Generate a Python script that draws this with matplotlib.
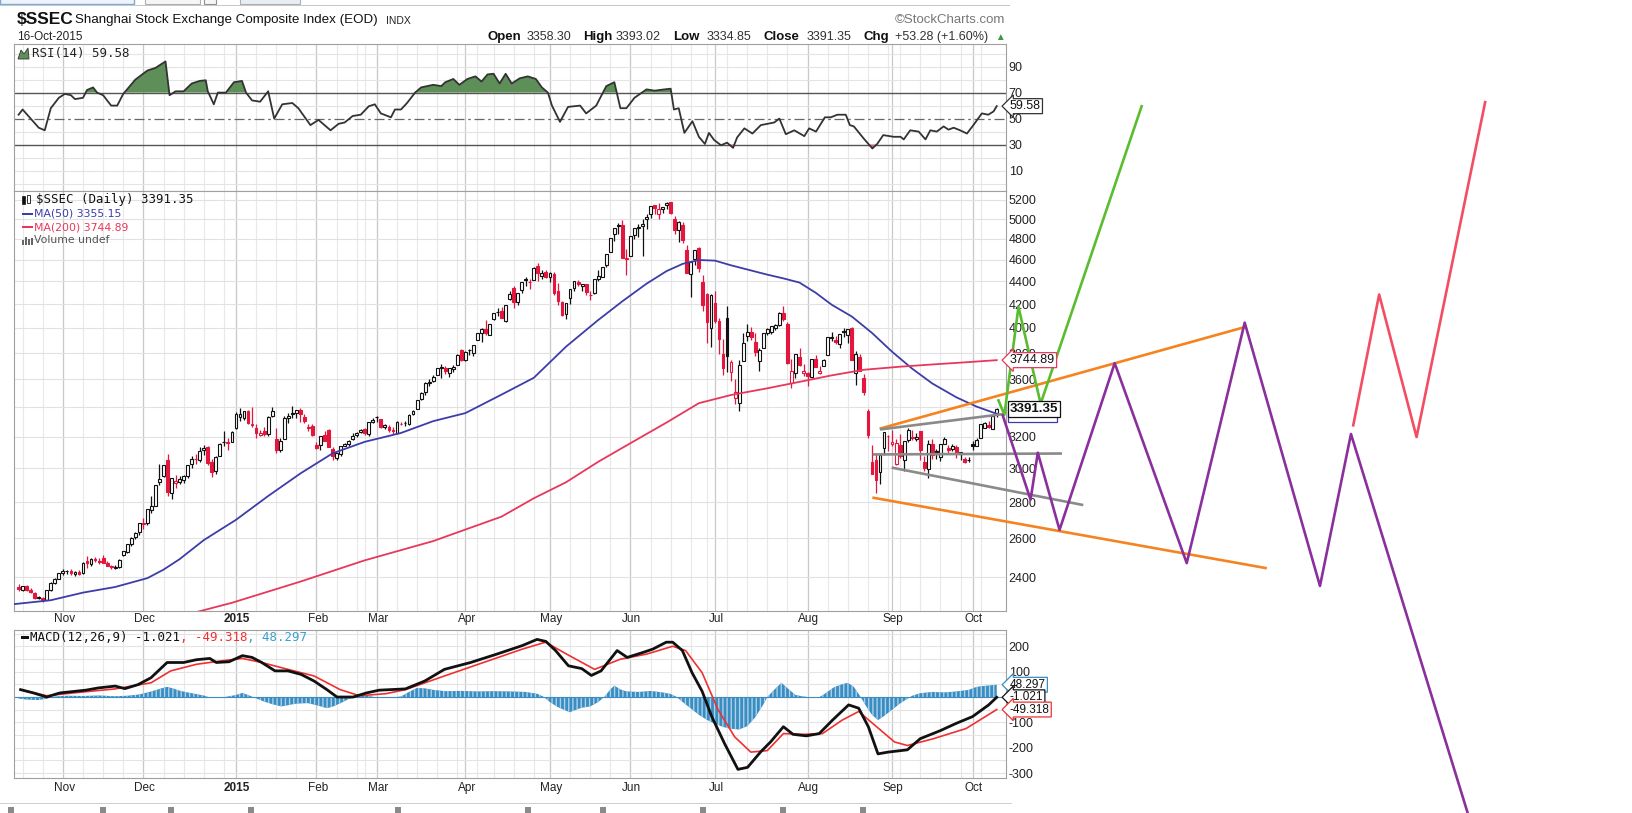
import numpy as np
import pandas as pd
import matplotlib
matplotlib.use("Agg")
import matplotlib.pyplot as plt
from matplotlib.transforms import blended_transform_factory as blend
from matplotlib.patches import Rectangle, Polygon
from matplotlib.ticker import NullLocator

plt.rcParams['font.family'] = ['Liberation Sans', 'DejaVu Sans']

# ----------------------------- data -----------------------------
start_date, end_date = '2014-10-17', '2015-10-16'
holidays = ['2015-01-01', '2015-01-02', '2015-02-18', '2015-02-19', '2015-02-20',
            '2015-02-23', '2015-02-24', '2015-04-06', '2015-05-01', '2015-06-22',
            '2015-09-03', '2015-09-04', '2015-10-01', '2015-10-02', '2015-10-05',
            '2015-10-06', '2015-10-07']
prev_close_start = 2356.0

opens = [2355, 2340, 2358, 2340, 2326, 2304, 2302, 2292, 2339, 2372, 2394,
         2421, 2429, 2432, 2417, 2425, 2422, 2480, 2464, 2494, 2484, 2499, 2474, 2455, 2446, 2450, 2510, 2530, 2567, 2605, 2632,
         2675, 2680, 2755, 2780, 2920, 2955, 3050, 2855, 2913, 2920, 2930, 2955, 3030, 3060, 3050, 3115, 3135, 3040, 2985, 3080, 3170, 3162, 3170,
         3258, 3331, 3327, 3372, 3276, 3259, 3212, 3242, 3222, 3343, 3189, 3114, 3189, 3324, 3358, 3360, 3383, 3334, 3268, 3273,
         3148, 3145, 3213, 3243, 3122, 3066, 3089, 3142, 3154, 3187, 3210, 3233, 3254, 3222, 3296,
         3332, 3317, 3264, 3265, 3248, 3225, 3289, 3291, 3285, 3357, 3391, 3458, 3506, 3576, 3586, 3631, 3683, 3684, 3648, 3677, 3710, 3822,
         3748, 3827, 3803, 3899, 3962, 3995, 3944, 4072, 4130, 4141, 4058, 4248, 4343, 4217, 4323, 4420, 4393, 4413, 4540, 4454, 4482,
         4441, 4470, 4312, 4215, 4120, 4250, 4342, 4399, 4361, 4375, 4281, 4294, 4418, 4440, 4547, 4677, 4854, 4926, 4943, 4604,
         4634, 4844, 4924, 4930, 5002, 5049, 5145, 5049, 5100, 5144, 5175, 5004, 4890, 4942, 4690, 4471, 4604, 4711, 4399, 4289, 3998,
         4214, 4058, 3793, 4079, 3655, 3468, 3432, 3742, 3935, 3968, 3885, 3742, 3839, 3963, 3970, 3998, 4022, 4124, 4029, 3574, 3647, 3769, 3648,
         3648, 3620, 3750, 3646, 3700, 3786, 3916, 3901, 3867, 3979, 3947, 3999, 3646, 3767, 3609, 3373, 3042, 3049, 2978, 3125, 3203,
         3157, 3027, 3149, 3055, 3180, 3190, 3189, 3237, 3042, 2998, 3152, 3110, 3069, 3157, 3127, 3119, 3132, 3088, 3060, 3055,
         3156, 3144, 3194, 3262, 3280, 3255, 3358.30]
highs = [2368, 2360, 2362, 2350, 2330, 2310, 2304, 2338, 2375, 2395, 2423,
         2440, 2435, 2440, 2432, 2434, 2478, 2508, 2496, 2500, 2495, 2510, 2480, 2460, 2460, 2490, 2535, 2568, 2605, 2632, 2683,
         2710, 2763, 2835, 2900, 3028, 3020, 3091, 2943, 2958, 2955, 2958, 3022, 3080, 3088, 3135, 3150, 3140, 3060, 3075, 3158, 3239, 3190, 3240,
         3369, 3394, 3374, 3381, 3404, 3283, 3245, 3268, 3337, 3400, 3262, 3190, 3337, 3358, 3406, 3384, 3394, 3352, 3288, 3288,
         3168, 3204, 3237, 3250, 3136, 3099, 3142, 3160, 3180, 3225, 3230, 3252, 3257, 3300, 3324,
         3337, 3318, 3286, 3276, 3265, 3303, 3300, 3304, 3357, 3383, 3449, 3507, 3578, 3600, 3632, 3688, 3715, 3697, 3686, 3705, 3795, 3835,
         3817, 3835, 3866, 3961, 4000, 4069, 4034, 4128, 4168, 4175, 4194, 4317, 4356, 4294, 4398, 4444, 4425, 4529, 4572, 4500, 4502,
         4488, 4490, 4383, 4225, 4210, 4334, 4401, 4416, 4378, 4380, 4315, 4418, 4500, 4532, 4658, 4814, 4911, 4958, 4986, 4698,
         4829, 4911, 4945, 4996, 5051, 5131, 5147, 5164, 5130, 5178, 5176, 5029, 4985, 4966, 4744, 4577, 4691, 4720, 4456, 4297, 4287,
         4317, 4080, 3908, 4184, 3748, 3601, 3748, 3959, 4030, 4011, 3958, 3837, 3960, 4000, 4019, 4031, 4132, 4184, 4051, 3757, 3794, 3837, 3715,
         3657, 3757, 3783, 3699, 3755, 3929, 3970, 3936, 3955, 4003, 3994, 4006, 3812, 3792, 3641, 3389, 3148, 3092, 3084, 3233, 3210,
         3244, 3188, 3217, 3171, 3257, 3243, 3223, 3237, 3079, 3182, 3187, 3119, 3157, 3201, 3150, 3151, 3149, 3102, 3070, 3073,
         3172, 3192, 3289, 3298, 3308, 3338, 3393.02]
lows = [2336, 2334, 2335, 2323, 2298, 2296, 2280, 2290, 2336, 2365, 2392,
        2411, 2415, 2410, 2408, 2412, 2418, 2445, 2455, 2478, 2466, 2470, 2455, 2440, 2441, 2446, 2505, 2524, 2560, 2595, 2620,
        2652, 2670, 2740, 2775, 2900, 2950, 2835, 2820, 2880, 2906, 2912, 2943, 3003, 3030, 3040, 3085, 3020, 2950, 2965, 3075, 3140, 3115, 3165,
        3253, 3303, 3312, 3285, 3268, 3191, 3204, 3209, 3208, 3330, 3095, 3101, 3188, 3293, 3327, 3329, 3301, 3293, 3240, 3209,
        3122, 3117, 3174, 3136, 3050, 3050, 3077, 3139, 3142, 3180, 3200, 3225, 3215, 3204, 3290,
        3298, 3260, 3250, 3234, 3222, 3216, 3279, 3273, 3279, 3348, 3390, 3452, 3487, 3555, 3583, 3631, 3614, 3643, 3615, 3653, 3705, 3737,
        3742, 3783, 3779, 3899, 3887, 3943, 3944, 4068, 4099, 4084, 4050, 4232, 4170, 4194, 4297, 4358, 4334, 4409, 4406, 4425, 4434,
        4398, 4280, 4192, 4099, 4075, 4201, 4319, 4356, 4315, 4280, 4232, 4287, 4403, 4439, 4535, 4677, 4779, 4848, 4617, 4459,
        4632, 4797, 4817, 4636, 4898, 5006, 5050, 5001, 5060, 5100, 5048, 4846, 4767, 4762, 4476, 4264, 4552, 4483, 4140, 3875, 3848,
        4043, 3795, 3629, 3653, 3585, 3421, 3373, 3742, 3895, 3906, 3775, 3660, 3838, 3941, 3950, 3984, 4020, 4061, 3716, 3537, 3614, 3702, 3626,
        3549, 3607, 3693, 3638, 3700, 3786, 3897, 3874, 3840, 3928, 3877, 3743, 3558, 3662, 3490, 3192, 2965, 2850, 2906, 3085, 3109,
        3140, 3019, 3066, 2983, 3170, 3178, 3171, 3049, 2983, 2939, 3057, 3059, 3044, 3157, 3087, 3109, 3066, 3051, 3033, 3039,
        3113, 3139, 3192, 3260, 3257, 3250, 3334.85]
closes = [2341, 2357, 2339, 2327, 2302, 2302, 2290, 2337, 2373, 2391, 2420,
          2430, 2430, 2419, 2425, 2418, 2473, 2469, 2494, 2485, 2478, 2474, 2457, 2450, 2452, 2487, 2532, 2567, 2604, 2630, 2683,
          2680, 2763, 2779, 2899, 2938, 3020, 2857, 2940, 2925, 2938, 2953, 3022, 3061, 3058, 3108, 3128, 3032, 2977, 3073, 3157, 3168, 3166, 3235,
          3351, 3352, 3374, 3294, 3285, 3229, 3223, 3222, 3336, 3376, 3116, 3173, 3323, 3343, 3351, 3383, 3352, 3305, 3262, 3210,
          3128, 3204, 3175, 3136, 3076, 3095, 3142, 3157, 3173, 3203, 3228, 3247, 3229, 3298, 3310,
          3336, 3263, 3280, 3248, 3241, 3302, 3286, 3290, 3349, 3373, 3449, 3503, 3577, 3582, 3617, 3688, 3691, 3661, 3683, 3691, 3786, 3748,
          3810, 3825, 3864, 3961, 3995, 3957, 4034, 4121, 4135, 4084, 4194, 4287, 4217, 4293, 4398, 4414, 4394, 4527, 4476, 4476, 4442,
          4480, 4298, 4230, 4112, 4206, 4333, 4401, 4376, 4378, 4308, 4284, 4418, 4446, 4530, 4658, 4814, 4911, 4942, 4621, 4612,
          4829, 4910, 4910, 4948, 5023, 5131, 5114, 5106, 5121, 5166, 5062, 4887, 4967, 4786, 4478, 4577, 4691, 4527, 4193, 4053, 4277,
          4054, 3913, 3687, 3776, 3728, 3507, 3710, 3878, 3970, 3924, 3806, 3823, 3958, 3993, 4017, 4027, 4124, 4071, 3726, 3663, 3790, 3706, 3664,
          3623, 3757, 3695, 3662, 3744, 3928, 3928, 3887, 3955, 3965, 3993, 3749, 3795, 3664, 3508, 3210, 2965, 2927, 3084, 3232, 3206,
          3166, 3160, 3080, 3171, 3243, 3198, 3200, 3115, 3005, 3152, 3086, 3097, 3157, 3186, 3116, 3143, 3093, 3100, 3039, 3053,
          3143, 3183, 3287, 3293, 3263, 3338, 3391.35]

month_labels = ['Nov', 'Dec', '2015', 'Feb', 'Mar', 'Apr', 'May', 'Jun', 'Jul', 'Aug', 'Sep', 'Oct']
price_ticks = [2400, 2600, 2800, 3000, 3200, 3400, 3600, 3800, 4000, 4200, 4400, 4600, 4800, 5000, 5200]
price_hidden_label = 3400          # covered by the last-close tag in the original
rsi_ticks = [10, 30, 50, 70, 90]
macd_ticks = [200, 100, -100, -200, -300]

ma50_x = [-2, 8, 16, 24, 32, 36, 40, 46, 54, 62, 70, 78, 86, 95, 103, 111, 120, 128, 136, 144,
          150, 156, 161, 165, 169, 173, 177, 182, 186, 190, 194, 198, 202, 207, 212, 217, 222, 227,
          233, 238, 243]
ma50_y = [2270, 2290, 2326, 2353, 2396, 2438, 2491, 2590, 2700, 2835, 2969, 3094, 3168, 3226, 3305, 3360, 3490, 3612, 3850, 4066,
          4225, 4380, 4495, 4562, 4598, 4592, 4548, 4500, 4462, 4428, 4390, 4300, 4195, 4095, 3960, 3810, 3680, 3570,
          3470, 3405, 3355.15]
ma200_x = [40, 53, 70, 86, 103, 120, 128, 136, 144, 152, 161, 169, 177, 186, 194, 202, 210, 219, 227, 235, 243]
ma200_y = [2215, 2278, 2379, 2485, 2585, 2718, 2822, 2916, 3041, 3159, 3296, 3429, 3487, 3535, 3582, 3630, 3672, 3695, 3712, 3728, 3744.89]

rsi_x = [0, 1, 3, 5, 6.5, 8, 10, 11.5, 13, 14,
         16, 17, 18.5, 19.5, 21, 23, 24.5, 26, 29, 32,
         34, 36.5, 37.5, 39, 41, 43, 45, 46.5, 47, 48.5,
         49.5, 51.5, 53.5, 55.5, 56.5, 58, 60, 62, 63.5, 65.5,
         68, 69.5, 72.5, 74.5, 77.5, 79.5, 81, 83, 85, 87,
         88.5, 90, 92.5, 93.5, 95, 96.5, 98.5, 100, 103, 105,
         106, 108, 109.5, 111.5, 113.5, 115, 116.5, 118, 119.5, 121,
         122.5, 124.5, 126.5, 128.5, 130, 131.5, 132.5, 134.5, 136.5, 139.5,
         141, 143.5, 146, 148, 149.5, 151, 153, 156, 158, 160.5,
         162, 162.8, 164, 165.4, 167.4, 169, 170.5, 171.5, 172.8, 174.5,
         176, 177.5, 178.5, 180.3, 182.3, 184.4, 187.7, 189, 190.6, 192.7,
         195.2, 196.4, 198.1, 200.3, 201.8, 203.4, 205.5, 206.5, 207.5, 210,
         212.1, 213.3, 214.8, 217.4, 219.1, 219.9, 221.5, 223.6, 225.3, 226.5,
         228.1, 229.8, 231, 232.3, 233.9, 235.6, 237.2, 239.3, 240.9, 242.2, 243]
rsi_y = [53, 57, 50, 43, 41, 58, 66, 69, 68, 65,
         66, 72, 74, 70, 68, 60, 60, 69, 80, 87,
         89, 94, 68, 71, 71, 77, 79, 79.5, 71, 61,
         70, 70, 78, 79, 70, 64, 63, 71, 50, 61,
         62, 58, 45, 49, 41, 46, 47, 52, 53, 59.5,
         61, 54, 51, 57, 57, 62, 70, 74, 76, 75,
         78, 80.5, 76, 80.5, 82.5, 78.5, 84, 84.5, 77, 84.5,
         77, 81, 82.5, 80.5, 74, 70, 60, 47.5, 59, 60,
         54, 60, 75, 78, 58, 58, 66, 72.5, 71.5, 72.5,
         73, 57, 58, 39, 48, 36, 30.5, 39, 33.5, 29.5,
         31.5, 27.5, 35.5, 42.5, 38.5, 45, 47, 50, 38, 41,
         36.5, 42.5, 40, 51, 51, 53, 53, 45, 44, 34.5,
         27, 30.5, 37.3, 36, 36, 34, 41, 40, 34, 41,
         40, 44, 41.5, 43, 41, 38.5, 45, 54, 53, 55.5, 59.58]

macd_x = [0.5, 3.7, 7, 10.2, 16.7, 19.9, 24, 26.4, 29.7, 32.9,
          36.9, 41, 44.2, 47.5, 49.1, 52.3, 55.6, 58, 60.4, 63.7,
          66.9, 70.2, 73.4, 76.6, 79.1, 83.1, 86.4, 89.6, 96.1, 100.9,
          105.8, 112.3, 118.8, 125.2, 128.8, 131, 133.4, 136.6, 139.9, 142.3,
          144.7, 148.7, 151.2, 155.2, 157.6, 160.9, 162.5, 164.9, 167.3, 169.8,
          172.2, 175.4, 178.7, 181.1, 184.3, 186.8, 190, 192.4, 195.7, 198.9,
          202.2, 206.2, 208.7, 211.1, 213.5, 216, 220.8, 224, 228.9, 232.9,
          237, 241, 243]
macd_y = [29, 16, 0, 16, 27, 36, 43, 33, 49, 76,
          136, 136, 147, 152, 136, 139, 163, 156, 136, 103,
          103, 89, 63, 29, 0, 0, 16, 27, 32, 63,
          109, 136, 169, 203, 227, 219, 183, 123, 112, 85,
          103, 183, 156, 176, 189, 216, 216, 183, 96, 23,
          -77, -184, -285, -277, -217, -177, -117, -147, -153, -144,
          -91, -31, -44, -117, -224, -217, -208, -164, -133, -104,
          -77, -31, -1.021]
sig_x = [0.5, 7, 13.5, 24, 32.9, 37.8, 44.2, 50.7, 55.6, 60.4,
         66.9, 73.4, 79.9, 84.7, 91.2, 96.1, 105.8, 115.5, 125.2, 130.9,
         136.6, 143.1, 149.5, 156, 162.5, 165.7, 169.8, 173.8, 177.9, 181.9,
         186, 190, 194.9, 199.7, 204.6, 208.7, 212.7, 217.6, 220.8, 227.3,
         235.4, 243]
sig_y = [29, 5, 16, 32, 56, 103, 129, 143, 152, 136,
         109, 83, 29, 5, 13, 29, 83, 136, 189, 216,
         165, 109, 149, 169, 200, 183, 96, -51, -157, -217,
         -211, -144, -147, -144, -91, -57, -111, -177, -191, -164,
         -124, -49.318]
hist_x = [0, 2, 5, 7, 9, 12, 16, 20, 24, 27,
          30, 33, 35, 36.9, 38.5, 40, 42, 44, 46, 48,
          50, 52, 54, 55.6, 57, 59, 61, 63, 65.3, 67,
          69, 71.8, 74, 76.6, 78, 80, 82, 83.5, 85, 87,
          89, 92, 95, 97, 99, 101, 103, 106, 110, 114,
          118, 122, 126, 129, 130.5, 132, 134, 136.9, 138.5, 140,
          142, 144, 145.5, 147, 148, 149.5, 151, 154, 157, 160,
          162, 163.5, 165, 167, 169, 171, 173, 175, 177, 179,
          181, 183, 185, 186, 187.5, 189.5, 191, 193, 195, 197,
          199, 200.5, 202.5, 204.5, 206, 207.5, 209, 210.5, 212, 213.5,
          215, 217, 219, 221, 222, 224, 227, 230, 233, 236,
          238, 240, 243]
hist_y = [-6, -10, -12, -6, 2, 5, 4, 6, 3, 5,
          10, 22, 32, 40, 33, 25, 18, 12, 6, -4,
          -3, 2, 8, 16, 8, -5, -18, -28, -37, -32,
          -26, -24, -32, -44, -38, -24, -8, 0, 6, 4,
          -2, -3, 2, 20, 36, 34, 28, 23, 24, 22,
          23, 22, 20, 12, 0, -20, -40, -60, -50, -42,
          -37, -20, 0, 30, 45, 30, 22, 20, 24, 18,
          12, 0, -20, -45, -70, -90, -105, -118, -125, -128,
          -115, -80, -30, 0, 25, 56, 35, 8, 2, -2,
          0, 15, 38, 50, 56, 40, 5, -35, -70, -91,
          -75, -50, -25, -5, 5, 15, 20, 18, 22, 28,
          40, 44, 48.297]

# hand-drawn annotation lines (trading-day index, price)
orange_up_x, orange_up_y = [213.9, 304.9], [3254, 4010]
orange_lo_x, orange_lo_y = [212.1, 310.1], [2826, 2445]
gray_up_x, gray_up_y = [214.0, 244.8], [3249, 3354]
gray_mid_x, gray_mid_y = [212.2, 259.2], [3087, 3093]
gray_lo_x, gray_lo_y = [216.9, 264.5], [3005, 2783]
green_x = [243.3, 244.9, 248.4, 253.9, 279.1]
green_y = [3457, 3349, 4178, 3425, 6316]
purple_x = [244.4, 251.4, 253.2, 258.6, 272.3, 290.2, 304.6, 323.3, 331.0, 361.3]
purple_y = [3352, 2814, 3098, 2645, 3722, 2471, 4044, 2358, 3219, 1430]
red_x = [331.5, 338.0, 347.3, 364.4]
red_y = [3268, 4284, 3199, 6370]

# ----------------------------- layout -----------------------------
W, H = 1632, 813
fig = plt.figure(figsize=(W / 100, H / 100), dpi=100)
fig.patch.set_facecolor('white')
renderer = fig.canvas.get_renderer()
MONO = ['DejaVu Sans Mono']
SANS = ['DejaVu Sans']


def ax_at(x0, y0, x1, y1):
    return fig.add_axes((x0 / W, 1 - y1 / H, (x1 - x0) / W, (y1 - y0) / H))


def ftext(x, y, s, **kw):
    kw.setdefault('va', 'center')
    kw.setdefault('ha', 'left')
    return fig.text(x / W, 1 - y / H, s, **kw)


def frect(x, y, w, h, **kw):
    fig.patches.append(Rectangle((x / W, 1 - (y + h) / H), w / W, h / H,
                                 transform=fig.transFigure, **kw))


def seq_text(x, y, parts, **kw):
    for s, color, weight, size in parts:
        t = ftext(x, y, s, color=color, fontweight=weight, fontsize=size, **kw)
        x += t.get_window_extent(renderer).width
    return x


ax_rsi = ax_at(14, 44, 1006, 191)
ax_p = ax_at(14, 191, 1006, 611)
ax_m = ax_at(14, 630, 1006, 778)
XL = (-1.14, 245.3)

dates = pd.bdate_range(start_date, end_date)
dates = dates[~dates.isin(pd.to_datetime(holidays))]
n = min(len(dates), len(closes))
dates = dates[:n]
idx = np.arange(n)
o = np.array(opens[:n], float)
h = np.array(highs[:n], float)
l = np.array(lows[:n], float)
c = np.array(closes[:n], float)

month_start = [i for i in range(1, n) if dates[i].month != dates[i - 1].month]
wk = dates.isocalendar().week.values
week_start = [i for i in range(1, n) if wk[i] != wk[i - 1]]

for a in (ax_rsi, ax_p, ax_m):
    a.set_xlim(*XL)
    a.set_xticks([])
    a.set_facecolor('white')
    for s in a.spines.values():
        s.set_color('#a0a0a0')
        s.set_linewidth(0.8)
    for i in week_start:
        a.axvline(i, color='#e8e8e8', lw=0.8, zorder=0)
    for i in month_start:
        a.axvline(i, color='#c9c9c9', lw=0.9, zorder=0)
    a.yaxis.tick_right()
    a.tick_params(axis='y', length=0, pad=2, labelsize=9, labelcolor='#222222')

# ---------------- RSI panel ----------------
ax_rsi.set_ylim(-5.7, 107.4)
for v in range(0, 101, 10):
    if v in (30, 50, 70):
        continue
    ax_rsi.axhline(v, color='#e4e4e4', lw=0.8, zorder=0)
ax_rsi.axhline(70, color='#555555', lw=1.0, zorder=1)
ax_rsi.axhline(30, color='#555555', lw=1.0, zorder=1)
ax_rsi.axhline(50, color='#666666', lw=0.9, ls=(0, (8, 3, 2, 3)), zorder=1)
rx = np.array(rsi_x, float)
ry = np.array(rsi_y, float)
ax_rsi.fill_between(rx, ry, 70, where=ry >= 70, interpolate=True, color='#5f8f58', lw=0, zorder=2)
ax_rsi.fill_between(rx, ry, 30, where=ry <= 30, interpolate=True, color='#d9607a', lw=0, zorder=2)
ax_rsi.plot(rx, ry, color='#333333', lw=1.3, zorder=3)
ax_rsi.set_yticks(rsi_ticks)
ax_rsi.set_yticklabels([str(t) for t in rsi_ticks])

# ---------------- Price panel ----------------
ax_p.set_yscale('log')
ax_p.set_ylim(2240, 5296)
ax_p.yaxis.set_minor_locator(NullLocator())
ax_p.set_yticks(price_ticks)
ax_p.set_yticklabels(['' if t == price_hidden_label else str(t) for t in price_ticks])
for v in price_ticks:
    ax_p.axhline(v, color='#e2e2e2', lw=0.8, zorder=0)

prev = np.concatenate([[prev_close_start], c[:-1]])
cols = np.where(c >= prev, '#111111', '#e3173e')
faces = np.where(c >= o, 'white', cols)
ax_p.vlines(idx, l, h, colors=cols, lw=0.9, zorder=3)
ax_p.bar(idx, np.maximum(np.abs(c - o), 1.5), bottom=np.minimum(o, c), width=0.7,
         color=faces, edgecolor=cols, linewidth=0.8, zorder=4)
ax_p.plot(ma50_x, ma50_y, color='#3d3da8', lw=1.3, zorder=5)
ax_p.plot(ma200_x, ma200_y, color='#e8375c', lw=1.3, zorder=5)

# annotations drawn beyond the chart
ann = [(orange_up_x, orange_up_y, '#f5831f'), (orange_lo_x, orange_lo_y, '#f5831f'),
       (gray_up_x, gray_up_y, '#8a8a8a'), (gray_mid_x, gray_mid_y, '#8a8a8a'),
       (gray_lo_x, gray_lo_y, '#8a8a8a'),
       (green_x, green_y, '#59bd2f'), (purple_x, purple_y, '#8b2f9d'), (red_x, red_y, '#f24d62')]
for xs, ys, col in ann:
    ax_p.plot(xs, ys, color=col, lw=1.9, clip_on=False, zorder=8, solid_capstyle='butt')

# ---------------- MACD panel ----------------
ax_m.set_ylim(-319, 264)
for v in range(-300, 251, 50):
    ax_m.axhline(v, color='#e4e4e4', lw=0.8, zorder=0)
ax_m.fill_between(hist_x, 0, hist_y, facecolor='#3b8cc0', edgecolor='#a9d2ec',
                  hatch='||||', linewidth=0, zorder=2)
ax_m.axhline(0, color='#3b8cc0', lw=0.8, zorder=2)
ax_m.plot(sig_x, sig_y, color='#f03030', lw=1.2, zorder=3)
ax_m.plot(macd_x, macd_y, color='#111111', lw=2.0, zorder=4)
ax_m.set_yticks(macd_ticks)
ax_m.set_yticklabels([str(t) for t in macd_ticks])

# ---------------- value tags ----------------
def tag(ax, y, s, ec, bold=False, fs=8.5, xoff=0.004, arrow=True, z=9):
    tr = blend(ax.transAxes, ax.transData)
    style = 'larrow,pad=0.12' if arrow else 'square,pad=0.15'
    ax.text(1.0 + xoff, y, s, transform=tr, ha='left', va='center', fontsize=fs,
            fontweight='bold' if bold else 'normal', color='#111111', clip_on=False,
            bbox=dict(boxstyle=style, fc='white', ec=ec, lw=0.9), zorder=z)

tag(ax_rsi, rsi_y[-1], '59.58', '#333333', fs=9)
tag(ax_p, ma200_y[-1], '3744.89', '#e8375c', fs=9)
tag(ax_p, ma50_y[-1], '3355.15', '#3d3da8', arrow=False, z=9, fs=9)
tag(ax_p, closes[-1], '3391.35', '#111111', bold=True, fs=9.5, arrow=False, z=10)
tag(ax_m, hist_y[-1], '48.297', '#3b8cc0')
tag(ax_m, macd_y[-1], '-1.021', '#111111', z=10)
tag(ax_m, sig_y[-1], '-49.318', '#f03030', z=11)

# ---------------- month labels ----------------
for a, yax in ((ax_p, (611 - 619) / 420), (ax_m, (778 - 788) / 148)):
    tr = blend(a.transData, a.transAxes)
    for i, lab in zip(month_start, month_labels):
        a.text(i + 0.3, yax, lab, transform=tr, ha='center', va='center', fontsize=8.5,
               color='#222222', fontweight='bold' if lab == '2015' else 'normal', clip_on=False)

# ---------------- header ----------------
ftext(17, 20, '$SSEC', fontsize=12.5, fontweight='bold', color='#111111')
ftext(75, 20, 'Shanghai Stock Exchange Composite Index (EOD)', fontsize=9.6, color='#111111')
ftext(386, 21, 'INDX', fontsize=7.5, color='#222222')
ftext(17, 37, '16-Oct-2015', fontsize=8.5, color='#222222')
ftext(1005, 20, '\u00a9StockCharts.com', fontsize=9.5, color='#777777', ha='right')
header = [(487, 'Open', 'bold'), (527, '3358.30', 'normal'), (583, 'High', 'bold'),
          (616, '3393.02', 'normal'), (673, 'Low', 'bold'), (707, '3334.85', 'normal'),
          (763, 'Close', 'bold'), (807, '3391.35', 'normal'), (863, 'Chg', 'bold'),
          (895, '+53.28 (+1.60%)', 'normal')]
for hx, s, wgt in header:
    ftext(hx, 37, s, fontsize=9.5 if wgt == 'bold' else 9, fontweight=wgt,
          color='#111111' if wgt == 'bold' else '#333333')
ftext(995, 37, '\u25b2', fontsize=7, color='#3a9a3a')

# panel legends
fig.patches.append(Polygon([(18 / W, 1 - 59 / H), (21 / W, 1 - 50 / H), (24 / W, 1 - 54 / H),
                            (28 / W, 1 - 48 / H), (29 / W, 1 - 59 / H)], closed=True,
                           transform=fig.transFigure, fc='#5f8f58', ec='#333333', lw=0.6))
ftext(32, 54, 'RSI(14) 59.58', fontsize=9, color='#222222', family=MONO)

frect(22, 196, 3, 8, fc='#111111', ec='#111111', lw=0.5)
frect(27, 195, 3, 8, fc='white', ec='#111111', lw=0.6)
ftext(36, 200, '$SSEC (Daily) 3391.35', fontsize=8.9, color='#111111', family=MONO)
frect(22, 213, 11, 2.4, fc='#3d3da8', lw=0)
ftext(34, 214, 'MA(50) 3355.15', fontsize=7.8, color='#3d3da8', family=SANS)
frect(22, 226, 11, 2.4, fc='#e8375c', lw=0)
ftext(34, 227, 'MA(200) 3744.89', fontsize=7.8, color='#e8375c', family=SANS)
for bx, bh in ((22, 5), (25, 8), (28, 6), (31, 7)):
    frect(bx, 245 - bh, 2, bh, fc='#666666', lw=0)
ftext(34, 240, 'Volume undef', fontsize=7.8, color='#555555', family=SANS)

frect(21, 636, 8, 2.6, fc='#111111', lw=0)
seq_text(30, 637, [('MACD(12,26,9) -1.021', '#111111', 'normal', 9),
                   (', -49.318', '#f03030', 'normal', 9),
                   (', 48.297', '#3a9fd0', 'normal', 9)], family=MONO)

# toolbar remnants at top and bottom
frect(0, -6, 134, 10, fc='#eef4fb', ec='#7ea9d6', lw=1.0)
frect(145, -6, 55, 10, fc='#f6f6f6', ec='#b0b0b0', lw=0.8)
frect(204, -6, 12, 10, fc='#f6f6f6', ec='#909090', lw=0.8)
frect(240, -6, 60, 10, fc='#e9eef4', ec='#b0b0b0', lw=0.8)
frect(0, 5, 1010, 0.8, fc='#c8c8c8', lw=0)
frect(0, 803, 1012, 0.9, fc='#cfcfcf', lw=0)
for bx in (8, 100, 168, 248, 395, 525, 600, 700, 780, 860):
    frect(bx, 807, 6, 6, fc='#8a8a8a', lw=0)

fig.savefig('out.png', dpi=100, facecolor='white')
